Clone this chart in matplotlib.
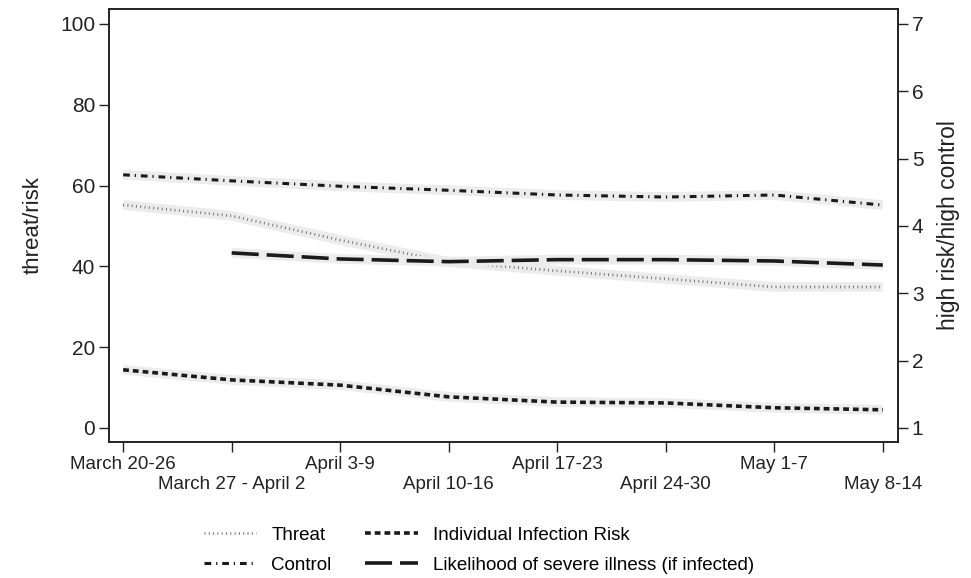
import matplotlib.pyplot as plt
import numpy as np

plt.rcParams['font.family'] = ['Liberation Sans', 'DejaVu Sans']

# ── Data ──────────────────────────────────────────────────────────────
weeks = ['March 20-26', 'March 27 - April 2', 'April 3-9', 'April 10-16',
         'April 17-23', 'April 24-30', 'May 1-7', 'May 8-14']

# left axis (threat/risk, 0-100)
threat         = [55.2, 52.5, 46.5, 41.1, 38.9, 36.9, 34.9, 34.9]
infection_risk = [14.4, 11.9, 10.6, 7.7, 6.4, 6.2, 5.0, 4.5]

# right axis (high risk/high control, 1-7)
control = [4.76, 4.67, 4.59, 4.53, 4.46, 4.43, 4.46, 4.31]
severe  = [np.nan, 3.60, 3.51, 3.47, 3.50, 3.50, 3.48, 3.42]

x = np.arange(len(weeks))

# ── Figure ────────────────────────────────────────────────────────────
fig = plt.figure(figsize=(9.71, 5.78), dpi=100)
ax = fig.add_axes([0.1123, 0.2353, 0.8125, 0.7491])
ax2 = ax.twinx()

band = dict(color='#ececec', linewidth=7, solid_capstyle='butt', zorder=1)

# light bands under every series
ax2.plot(x, control, **band)
ax2.plot(x, severe, **band)
ax.plot(x, threat, **band)
ax.plot(x, infection_risk, **band)

l_threat, = ax.plot(x, threat, color='#777777', linewidth=2.0,
                    linestyle=(0, (0.35, 1.2)), zorder=3)
l_risk, = ax.plot(x, infection_risk, color='#1a1a1a', linewidth=2.6,
                  linestyle=(0, (1.6, 1.1)), zorder=3)
l_control, = ax2.plot(x, control, color='#1a1a1a', linewidth=2.2,
                      linestyle=(0, (2.2, 1.6, 0.4, 1.6)), zorder=3)
l_severe, = ax2.plot(x, severe, color='#1a1a1a', linewidth=2.6,
                     linestyle=(0, (7.5, 2.2)), zorder=3)

# ── Axes ──────────────────────────────────────────────────────────────
ax.set_xlim(-0.13, 7.14)
ax.set_ylim(-3.47, 103.7)
ax2.set_ylim(1 + 0.06 * -3.47, 1 + 0.06 * 103.7)

ax.set_yticks([0, 20, 40, 60, 80, 100])
ax2.set_yticks([1, 2, 3, 4, 5, 6, 7])

# week labels staggered on two rows: even weeks on major ticks, odd on minor
ax.set_xticks(x[::2], weeks[::2], fontsize=13.5)
ax.set_xticks(x[1::2], weeks[1::2], minor=True, fontsize=13.5)

ax.tick_params(axis='y', labelsize=15, length=7, width=1, colors='#222222', pad=3)
ax2.tick_params(axis='y', labelsize=15, length=7, width=1, colors='#222222', pad=3)
ax.tick_params(axis='x', which='major', length=7, width=1, colors='#222222', pad=3)
ax.tick_params(axis='x', which='minor', length=7, width=1, colors='#222222', pad=17.5)

for a in (ax, ax2):
    for s in a.spines.values():
        s.set_linewidth(1.2)
        s.set_color('#222222')

ax.set_ylabel('threat/risk', fontsize=16, color='#222222', labelpad=12)
ax2.set_ylabel('high risk/high control', fontsize=16.5, color='#222222', labelpad=10)

# ── Legend ────────────────────────────────────────────────────────────
fig.legend([l_threat, l_control, l_risk, l_severe],
           ['Threat', 'Control', 'Individual Infection Risk',
            'Likelihood of severe illness (if infected)'],
           ncol=2, loc='lower center', bbox_to_anchor=(0.493, -0.022),
           frameon=False, fontsize=13.5, handlelength=2.8, columnspacing=1.8,
           handletextpad=0.8, labelspacing=0.7)

plt.savefig('out.png', dpi=100)
